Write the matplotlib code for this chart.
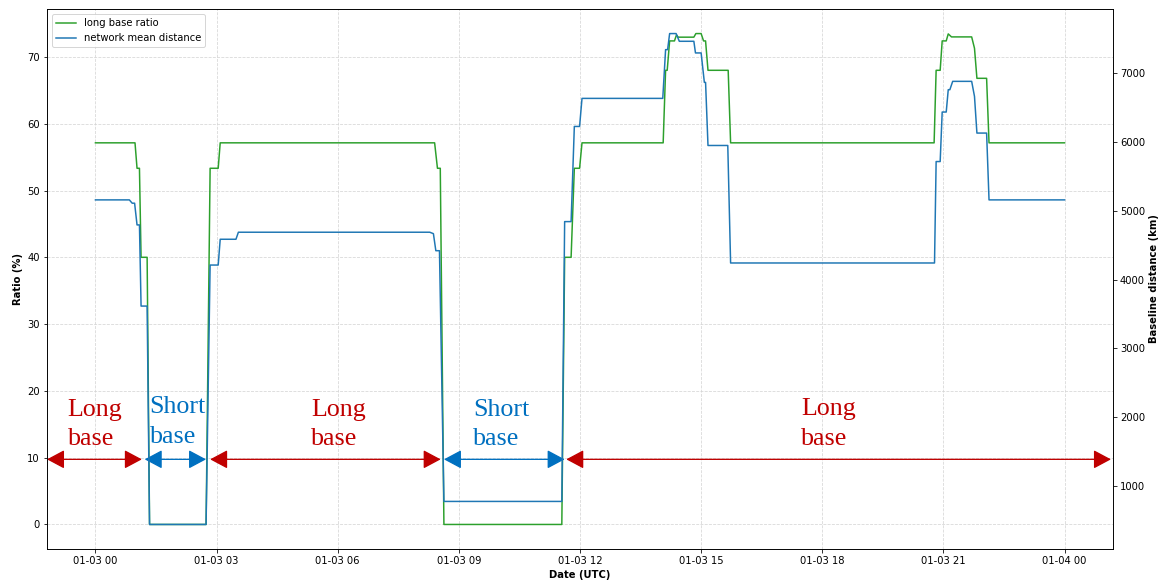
import datetime as dt
import matplotlib
matplotlib.use("Agg")
import matplotlib.pyplot as plt
import matplotlib.dates as mdates

# Hours after 2023-01-03 00:00 UTC and the values at each break point
ratio_hours = [0.00, 0.98, 1.03, 1.09, 1.13, 1.28, 1.34, 2.74, 2.84, 3.04, 3.09,
               8.40, 8.47, 8.54, 8.63, 11.55, 11.62, 11.78, 11.86, 11.99, 12.05,
               14.06, 14.12, 14.16, 14.22, 14.34, 14.39, 14.43, 14.82, 14.87, 15.00,
               15.06, 15.11, 15.17, 15.67, 15.73, 20.77, 20.82, 20.92, 20.97, 21.07,
               21.12, 21.20, 21.70, 21.77, 21.83, 22.07, 22.13, 24.00]
long_base_ratio = [57.14, 57.14, 53.33, 53.33, 40.0, 40.0, 0.0, 0.0, 53.33, 53.33, 57.14,
                   57.14, 53.33, 53.33, 0.0, 0.0, 40.0, 40.0, 53.33, 53.33, 57.14,
                   57.14, 68.0, 68.0, 72.4, 72.4, 73.3, 72.96, 72.96, 73.5, 73.5,
                   72.4, 72.4, 68.0, 68.0, 57.14, 57.14, 68.0, 68.0, 72.4, 72.4,
                   73.45, 73.0, 73.0, 71.3, 66.8, 66.8, 57.14, 57.14]

dist_hours = [0.00, 0.84, 0.91, 0.97, 1.03, 1.09, 1.13, 1.28, 1.34, 2.74, 2.84, 3.04,
              3.09, 3.48, 3.54, 8.28, 8.37, 8.43, 8.52, 8.63, 11.55, 11.62, 11.78,
              11.86, 11.99, 12.05, 14.05, 14.12, 14.17, 14.22, 14.38, 14.46, 14.82,
              14.86, 15.00, 15.08, 15.11, 15.17, 15.66, 15.73, 20.78, 20.82, 20.92,
              20.97, 21.07, 21.12, 21.16, 21.23, 21.70, 21.77, 21.83, 22.07, 22.13, 24.00]
mean_distance = [5155, 5155, 5107, 5107, 4792, 4792, 3615, 3615, 448, 448, 4210, 4210,
                 4584, 4584, 4686, 4686, 4665, 4418, 4418, 782, 782, 4840, 4840,
                 6220, 6220, 6627, 6627, 7334, 7334, 7567, 7567, 7455, 7455,
                 7286, 7286, 6859, 6859, 5944, 5944, 4240, 4240, 5711, 5711,
                 6429, 6429, 6753, 6753, 6874, 6874, 6656, 6124, 6124, 5155, 5155]

# Base-length periods: (start hour, end hour, label, label x, label y, colour)
period_start = [-1.20, 1.22, 2.84, 8.63, 11.66]
period_end = [1.15, 2.74, 8.55, 11.62, 25.15]
period_label = ["Long\nbase", "Short\nbase", "Long\nbase", "Short\nbase", "Long\nbase"]
label_hour = [-0.69, 1.34, 5.34, 9.36, 17.47]
label_level = [11.1, 11.5, 11.1, 11.1, 11.2]
period_kind = ["long", "short", "long", "short", "long"]

kind_colour = {"long": "#C00000", "short": "#0070C0"}
arrow_level = 9.75

base = dt.datetime(2023, 1, 3)


def to_num(h):
    return mdates.date2num(base + dt.timedelta(hours=h))


ratio_t = [base + dt.timedelta(hours=h) for h in ratio_hours]
dist_t = [base + dt.timedelta(hours=h) for h in dist_hours]

fig = plt.figure(figsize=(1163 / 72, 582 / 72), dpi=72)
ax = fig.add_subplot(111)
fig.subplots_adjust(left=0.0404, right=0.957, bottom=0.0567, top=0.9845)

l1, = ax.plot(ratio_t, long_base_ratio, color="tab:green", lw=1.5, label="long base ratio")
ax.set_ylabel("Ratio (%)", fontweight="bold")
ax.set_xlabel("Date (UTC)", fontweight="bold")
ax.grid(True, linestyle="--", color="#d3d3d3", alpha=0.9)

ax2 = ax.twinx()
l2, = ax2.plot(dist_t, mean_distance, color="tab:blue", lw=1.5, label="network mean distance")
ax2.set_ylabel("Baseline distance (km)", fontweight="bold")

ax.xaxis.set_major_locator(mdates.HourLocator(byhour=range(0, 24, 3)))
ax.xaxis.set_major_formatter(mdates.DateFormatter("%m-%d %H"))

for s, e, lab, lx, ly, k in zip(period_start, period_end, period_label,
                                label_hour, label_level, period_kind):
    c = kind_colour[k]
    ax.annotate("", xy=(to_num(e), arrow_level), xytext=(to_num(s), arrow_level),
                arrowprops=dict(arrowstyle="<|-|>,head_length=0.75,head_width=0.4",
                                color=c, lw=1.3, shrinkA=0, shrinkB=0,
                                mutation_scale=20),
                zorder=5)
    ax.text(to_num(lx), ly, lab, color=c, fontsize=26, family="Liberation Serif",
            ha="left", va="bottom", linespacing=1.45, zorder=5)

ax.legend(handles=[l1, l2], loc="upper left")

fig.savefig("out.png", dpi=72)
